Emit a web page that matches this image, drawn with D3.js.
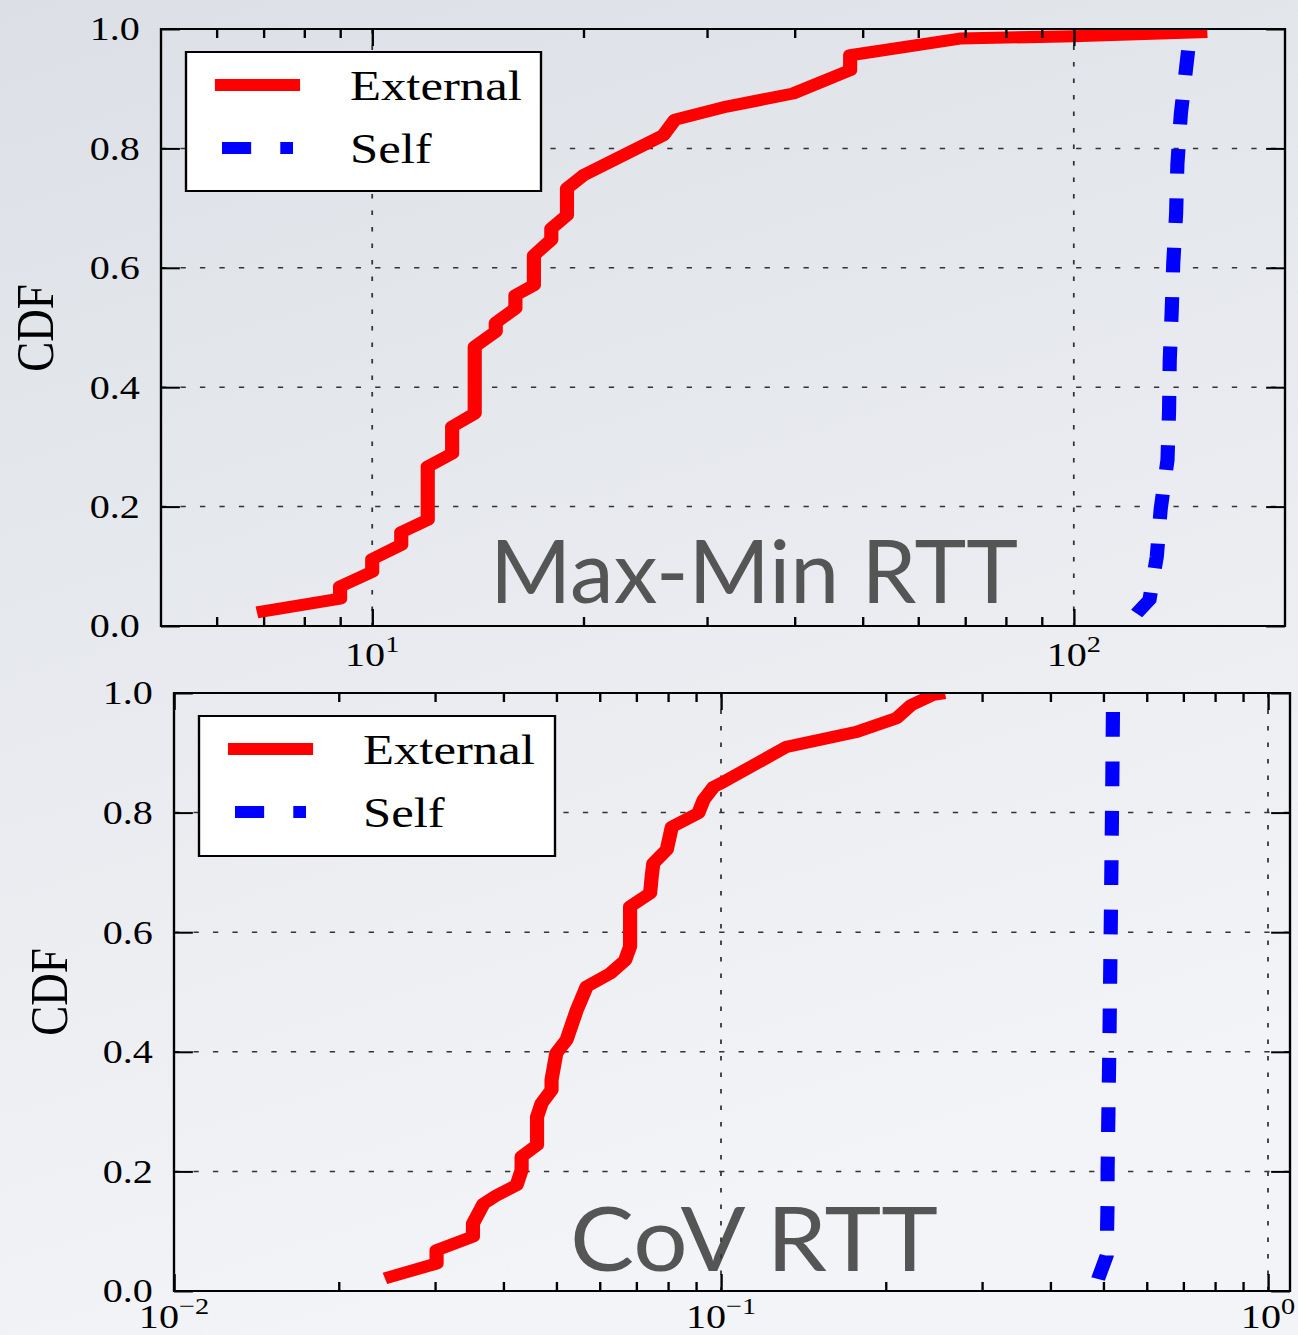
<!DOCTYPE html>
<html>
<head>
<meta charset="utf-8">
<script src="https://cdn.jsdelivr.net/npm/d3@7"></script>
<style>
  body { margin: 0; }
  svg { display: block; }
</style>
</head>
<body>
<div id="chart"></div>
<script>
// values
var maxMinExtX = [6.85, 9.0, 9.0, 10.0, 10.0, 11.0, 11.0, 12.0, 12.0, 13.0, 13.0, 14.0, 14.0, 15.0, 15.0, 16.0, 16.0, 17.0, 17.0, 18.0, 18.0, 18.95, 18.95, 20.0, 26.0, 27.0, 32.0, 39.8, 48.0, 48.0, 68.8, 100, 155];
var maxMinExtY = [0.023, 0.046, 0.066, 0.091, 0.112, 0.136, 0.157, 0.178, 0.267, 0.289, 0.334, 0.356, 0.468, 0.493, 0.508, 0.532, 0.554, 0.571, 0.621, 0.647, 0.666, 0.688, 0.733, 0.755, 0.822, 0.848, 0.870, 0.892, 0.931, 0.956, 0.984, 0.988, 0.995];
var maxMinSelfX = [122.9, 128.2, 131.3, 133.0, 136.0, 136.7, 137.0, 137.9, 138.6, 139.9, 140.5, 142.1, 145.4, 147];
var maxMinSelfY = [0.021, 0.044, 0.116, 0.196, 0.278, 0.360, 0.444, 0.528, 0.608, 0.690, 0.774, 0.858, 0.960, 1.0];

var covExtX = [0.0243, 0.0302, 0.0302, 0.0352, 0.0352, 0.0368, 0.0389, 0.0423, 0.0432, 0.0432, 0.0461, 0.0461, 0.047, 0.049, 0.049, 0.050, 0.0522, 0.0545, 0.0568, 0.0627, 0.0668, 0.0682, 0.0682, 0.0742, 0.0747, 0.0752, 0.0796, 0.0813, 0.0909, 0.0929, 0.0969, 0.1, 0.1318, 0.177, 0.2094, 0.2229, 0.2443, 0.2567];
var covExtY = [0.021, 0.046, 0.068, 0.091, 0.113, 0.146, 0.160, 0.177, 0.202, 0.225, 0.244, 0.291, 0.314, 0.336, 0.353, 0.398, 0.420, 0.470, 0.509, 0.531, 0.553, 0.576, 0.643, 0.665, 0.693, 0.715, 0.738, 0.776, 0.799, 0.821, 0.843, 0.849, 0.910, 0.935, 0.958, 0.980, 0.997, 1.0];
var covSelfX = [0.489, 0.507, 0.509, 0.509, 0.513, 0.516, 0.519, 0.521];
var covSelfY = [0.02, 0.059, 0.15, 0.2, 0.42, 0.62, 0.83, 1.0];

var yTicks = [0, 0.2, 0.4, 0.6, 0.8, 1.0];
var yGrid = [0.2, 0.4, 0.6, 0.8];
var seriesNames = ["External", "Self"];
var maxMinExps = [1, 2];
var covExps = [-2, -1, 0];

var svgWidth = 1298;
var svgHeight = 1335;
// the source picture is stretched sideways a bit
var stretch = 1.18;
function px(v) { return v / stretch; }

var serif = "'Liberation Serif', 'Times New Roman', serif";

var svg = d3.select("#chart")
    .append("svg")
    .attr("width", svgWidth)
    .attr("height", svgHeight);

var grad = svg.append("defs").append("linearGradient")
    .attr("id", "bg")
    .attr("x1", 0).attr("y1", 0).attr("x2", 0.3).attr("y2", 1);
grad.append("stop").attr("offset", 0).attr("stop-color", "#dce0e6");
grad.append("stop").attr("offset", 1).attr("stop-color", "#f3f4f7");

svg.append("rect")
    .attr("width", svgWidth)
    .attr("height", svgHeight)
    .attr("fill", "url(#bg)");

var root = svg.append("g")
    .attr("transform", `scale(${stretch},1)`);

var panels = [
    {
        id: "p1", left: 161, right: 1285, top: 29, bottom: 626,
        domain: [5, 200], exps: maxMinExps, labelDy: 40,
        ext: d3.zip(maxMinExtX, maxMinExtY), self: d3.zip(maxMinSelfX, maxMinSelfY),
        title: "Max-Min RTT", titleX: 490, titleY: 603, titleW: 528, titleSize: 88,
        legX: 186, legY: 52, legW: 355, legH: 139,
        ylabX: 53, ylabY: 328
    },
    {
        id: "p2", left: 174, right: 1290, top: 693, bottom: 1291,
        domain: [0.01, 1.097], exps: covExps, labelDy: 37,
        ext: d3.zip(covExtX, covExtY), self: d3.zip(covSelfX, covSelfY),
        title: "CoV RTT", titleX: 570, titleY: 1271, titleW: 368, titleSize: 90,
        legX: 199, legY: 716, legW: 356, legH: 140,
        ylabX: 67, ylabY: 992
    }
];

function minorTicks(domain) {
    var out = [];
    for (var e = -3; e <= 3; e++) {
        for (var m = 2; m <= 9; m++) {
            var v = m * Math.pow(10, e);
            if (v > domain[0] && v < domain[1]) out.push(v);
        }
    }
    return out;
}

panels.forEach(function(p) {
    var xScale = d3.scaleLog().domain(p.domain).range([px(p.left), px(p.right)]);
    var yScale = d3.scaleLinear().domain([0, 1]).range([p.bottom, p.top]);
    var x0 = px(p.left), x1 = px(p.right);
    var majors = p.exps.map(e => Math.pow(10, e)).filter(v => v >= p.domain[0] && v <= p.domain[1]);

    var g = root.append("g");

    // big grey caption
    g.append("text")
        .attr("x", px(p.titleX))
        .attr("y", p.titleY)
        .attr("font-family", "Lato, 'Open Sans', sans-serif")
        .attr("font-size", p.titleSize)
        .attr("fill", "#555555")
        .attr("textLength", px(p.titleW))
        .attr("lengthAdjust", "spacingAndGlyphs")
        .text(p.title);

    // grid
    g.append("g").selectAll("line")
        .data(yGrid)
        .enter()
        .append("line")
        .attr("x1", x0).attr("x2", x1)
        .attr("y1", d => yScale(d)).attr("y2", d => yScale(d))
        .attr("stroke", "#333")
        .attr("stroke-width", 1.5)
        .attr("stroke-dasharray", "4.5,12");

    g.append("g").selectAll("line")
        .data(majors.filter(v => v > p.domain[0] * 1.01))
        .enter()
        .append("line")
        .attr("x1", d => xScale(d)).attr("x2", d => xScale(d))
        .attr("y1", p.top).attr("y2", p.bottom)
        .attr("stroke", "#333")
        .attr("stroke-width", 1.5)
        .attr("stroke-dasharray", "4.5,12");

    // curves
    g.append("clipPath").attr("id", "clip-" + p.id)
        .append("rect")
        .attr("x", x0).attr("y", p.top)
        .attr("width", x1 - x0).attr("height", p.bottom - p.top);

    var line = d3.line()
        .x(d => xScale(d[0]))
        .y(d => yScale(d[1]));

    var curves = g.append("g").attr("clip-path", `url(#clip-${p.id})`);
    curves.append("path")
        .datum(p.ext)
        .attr("d", line)
        .attr("fill", "none")
        .attr("stroke", "#ff0000")
        .attr("stroke-width", 12)
        .attr("stroke-linejoin", "round");
    curves.append("path")
        .datum(p.self)
        .attr("d", line)
        .attr("fill", "none")
        .attr("stroke", "#0000ff")
        .attr("stroke-width", 12)
        .attr("stroke-dasharray", "24.7,24.7");

    // axes with inward ticks
    var yLeft = g.append("g")
        .attr("transform", `translate(${x0},0)`)
        .call(d3.axisLeft(yScale).tickValues(yTicks).tickSizeInner(-16).tickSizeOuter(0)
            .tickPadding(18).tickFormat(d3.format(".1f")));
    yLeft.attr("font-family", serif).attr("font-size", 34);
    yLeft.selectAll("text").attr("fill", "black");

    g.append("g")
        .attr("transform", `translate(${x1},0)`)
        .call(d3.axisRight(yScale).tickValues(yTicks).tickSizeInner(-16).tickSizeOuter(0).tickFormat(""));

    g.append("g")
        .attr("transform", `translate(0,${p.bottom})`)
        .call(d3.axisBottom(xScale).tickValues(majors).tickSizeInner(-17).tickSizeOuter(0).tickFormat(""));
    g.append("g")
        .attr("transform", `translate(0,${p.top})`)
        .call(d3.axisTop(xScale).tickValues(majors).tickSizeInner(-17).tickSizeOuter(0).tickFormat(""));
    g.append("g")
        .attr("transform", `translate(0,${p.bottom})`)
        .call(d3.axisBottom(xScale).tickValues(minorTicks(p.domain)).tickSizeInner(-9).tickSizeOuter(0).tickFormat(""));
    g.append("g")
        .attr("transform", `translate(0,${p.top})`)
        .call(d3.axisTop(xScale).tickValues(minorTicks(p.domain)).tickSizeInner(-9).tickSizeOuter(0).tickFormat(""));

    g.selectAll(".domain").remove();
    g.selectAll(".tick line").attr("stroke", "black").attr("stroke-width", 2);

    // spines
    g.append("rect")
        .attr("x", x0).attr("y", p.top)
        .attr("width", x1 - x0).attr("height", p.bottom - p.top)
        .attr("fill", "none")
        .attr("stroke", "black")
        .attr("stroke-width", 2);

    // x tick labels as 10^n
    var xl = g.append("g")
        .attr("font-family", serif)
        .attr("font-size", 34)
        .attr("text-anchor", "middle");
    p.exps.forEach(function(e) {
        var t = xl.append("text")
            .attr("x", xScale(Math.pow(10, e)))
            .attr("y", p.bottom + p.labelDy);
        t.append("tspan").text("10");
        t.append("tspan")
            .attr("dy", -14)
            .attr("font-size", 24)
            .text(e < 0 ? "\u2212" + (-e) : String(e));
    });

    // y label
    g.append("text")
        .attr("transform", `translate(${px(p.ylabX)},${p.ylabY}) rotate(-90)`)
        .attr("text-anchor", "middle")
        .attr("font-family", serif)
        .attr("font-size", 45)
        .text("CDF");

    // legend
    var leg = g.append("g");
    leg.append("rect")
        .attr("x", px(p.legX)).attr("y", p.legY)
        .attr("width", px(p.legW)).attr("height", p.legH)
        .attr("fill", "white")
        .attr("stroke", "black")
        .attr("stroke-width", 2);
    leg.append("line")
        .attr("x1", px(p.legX + 36)).attr("x2", px(p.legX + 107))
        .attr("y1", p.legY + 33).attr("y2", p.legY + 33)
        .attr("stroke", "#ff0000")
        .attr("stroke-width", 12)
        .attr("stroke-linecap", "square");
    leg.append("line")
        .attr("x1", px(p.legX + 36)).attr("x2", px(p.legX + 107))
        .attr("y1", p.legY + 96).attr("y2", p.legY + 96)
        .attr("stroke", "#0000ff")
        .attr("stroke-width", 12)
        .attr("stroke-dasharray", "24.7,24.7");
    leg.selectAll(".legtext")
        .data(seriesNames)
        .enter()
        .append("text")
        .attr("x", px(p.legX + 164))
        .attr("y", (d, i) => p.legY + 48 + i * 63)
        .attr("font-family", serif)
        .attr("font-size", 43)
        .text(d => d);
});
</script>
</body>
</html>
